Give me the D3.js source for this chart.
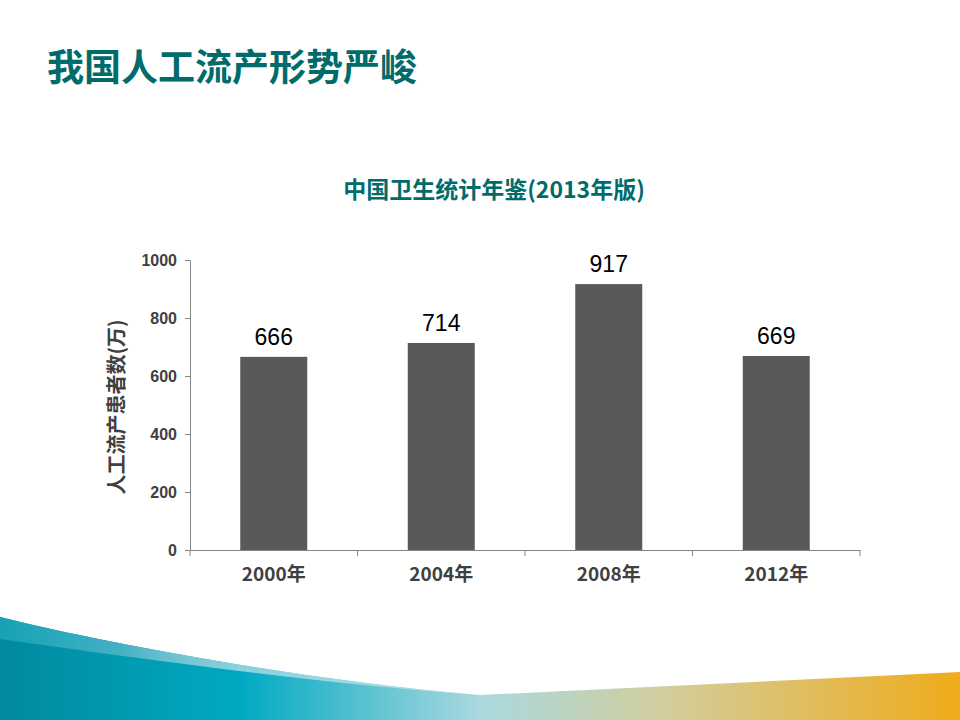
<!DOCTYPE html>
<html lang="zh">

<head>
    <meta charset="UTF-8">
    <title>我国人工流产形势严峻</title>
    <style>
        body { margin: 0; background: #fff; }
        svg { display: block; }
    </style>
</head>

<body>
    <script src="https://cdn.jsdelivr.net/npm/d3@7"></script>
    <script>
        const svg_w = 960;
        const svg_h = 720;

        // data
        const years = ['2000年', '2004年', '2008年', '2012年'];
        const abortions = [666, 714, 917, 669];
        const y_ticks = [0, 200, 400, 600, 800, 1000];

        const cjk = '"Noto Sans CJK SC", "Noto Sans", sans-serif';
        const latin = '"Liberation Sans", Arial, sans-serif';
        const teal = '#006b6b';

        const svg = d3.select('body')
            .append('svg')
            .attr('width', svg_w)
            .attr('height', svg_h);

        const defs = svg.append('defs');

        // bottom decoration
        const g1 = defs.append('linearGradient').attr('id', 'wave').attr('x1', 0).attr('x2', 1).attr('y1', 0).attr('y2', 0);
        [[0, '#008a9e'], [0.25, '#00a9c3'], [0.5, '#aad9df'], [0.7, '#d3cd9a'], [1, '#efab1a']]
            .forEach(s => g1.append('stop').attr('offset', s[0]).attr('stop-color', s[1]));
        const g2 = defs.append('linearGradient').attr('id', 'wave_top').attr('x1', 0).attr('x2', 1).attr('y1', 0).attr('y2', 0);
        [[0, '#14a2b4', 1], [0.25, '#45b0c4', 1], [0.5, '#c4e3e9', 0.7]]
            .forEach(s => g2.append('stop').attr('offset', s[0]).attr('stop-color', s[1]).attr('stop-opacity', s[2]));

        svg.append('path')
            .attr('d', 'M0,617 C100,642 300,680 480,695 L960,672 L960,720 L0,720 Z')
            .attr('fill', 'url(#wave)');
        svg.append('path')
            .attr('d', 'M0,617 C100,642 300,680 480,695 C330,685 150,660 0,639 Z')
            .attr('fill', 'url(#wave_top)');

        // titles
        svg.append('text')
            .text('我国人工流产形势严峻')
            .attr('x', 47)
            .attr('y', 81)
            .attr('font-family', cjk)
            .attr('font-weight', 'bold')
            .attr('font-size', '37px')
            .attr('fill', teal);

        svg.append('text')
            .text('中国卫生统计年鉴(2013年版)')
            .attr('x', 494)
            .attr('y', 198)
            .attr('text-anchor', 'middle')
            .attr('font-family', cjk)
            .attr('font-weight', 'bold')
            .attr('font-size', '23px')
            .attr('fill', teal);

        // scales
        const x = d3.scaleBand()
            .domain(years)
            .range([190, 860])
            .padding(0);

        const y = d3.scaleLinear()
            .domain([0, 1000])
            .range([550, 260]);

        const bar_w = x.bandwidth() * 0.4;

        // y axis
        const y_axis = svg.append('g')
            .attr('transform', 'translate(190,0)')
            .call(d3.axisLeft(y).tickValues(y_ticks).tickFormat(d3.format('d')).tickSize(5).tickPadding(8));
        y_axis.select('.domain').attr('stroke', '#868686');
        y_axis.selectAll('.tick line').attr('stroke', '#868686');
        y_axis.selectAll('.tick text')
            .attr('font-family', latin)
            .attr('font-weight', 'bold')
            .attr('font-size', '16px')
            .attr('fill', '#404040');

        // x axis, ticks sit between categories
        const x_axis = svg.append('g')
            .attr('transform', 'translate(0,550)')
            .call(d3.axisBottom(x).tickSize(0).tickPadding(18));
        x_axis.select('.domain').attr('stroke', '#868686');
        x_axis.selectAll('.tick text')
            .attr('font-family', cjk)
            .attr('font-weight', 'bold')
            .attr('font-size', '19px')
            .attr('fill', '#404040');
        x_axis.selectAll('line.sep')
            .data(years.concat(['end']))
            .enter()
            .append('line')
            .attr('class', 'sep')
            .attr('x1', (d, i) => 190 + i * x.step())
            .attr('x2', (d, i) => 190 + i * x.step())
            .attr('y1', 0)
            .attr('y2', 6)
            .attr('stroke', '#868686');

        // y axis title
        svg.append('text')
            .text('人工流产患者数(万)')
            .attr('transform', 'translate(124,407) rotate(-90)')
            .attr('text-anchor', 'middle')
            .attr('font-family', cjk)
            .attr('font-weight', 'bold')
            .attr('font-size', '20px')
            .attr('fill', '#404040');

        // bars
        svg.selectAll('rect.bar')
            .data(abortions)
            .enter()
            .append('rect')
            .attr('class', 'bar')
            .attr('x', (d, i) => x(years[i]) + (x.bandwidth() - bar_w) / 2)
            .attr('y', d => y(d))
            .attr('width', bar_w)
            .attr('height', d => y(0) - y(d))
            .attr('fill', '#595959');

        // value labels
        svg.selectAll('text.val')
            .data(abortions)
            .enter()
            .append('text')
            .attr('class', 'val')
            .text(d => d)
            .attr('x', (d, i) => x(years[i]) + x.bandwidth() / 2)
            .attr('y', d => y(d) - 12)
            .attr('text-anchor', 'middle')
            .attr('font-family', latin)
            .attr('font-size', '23px')
            .attr('fill', '#000');
    </script>
</body>

</html>
